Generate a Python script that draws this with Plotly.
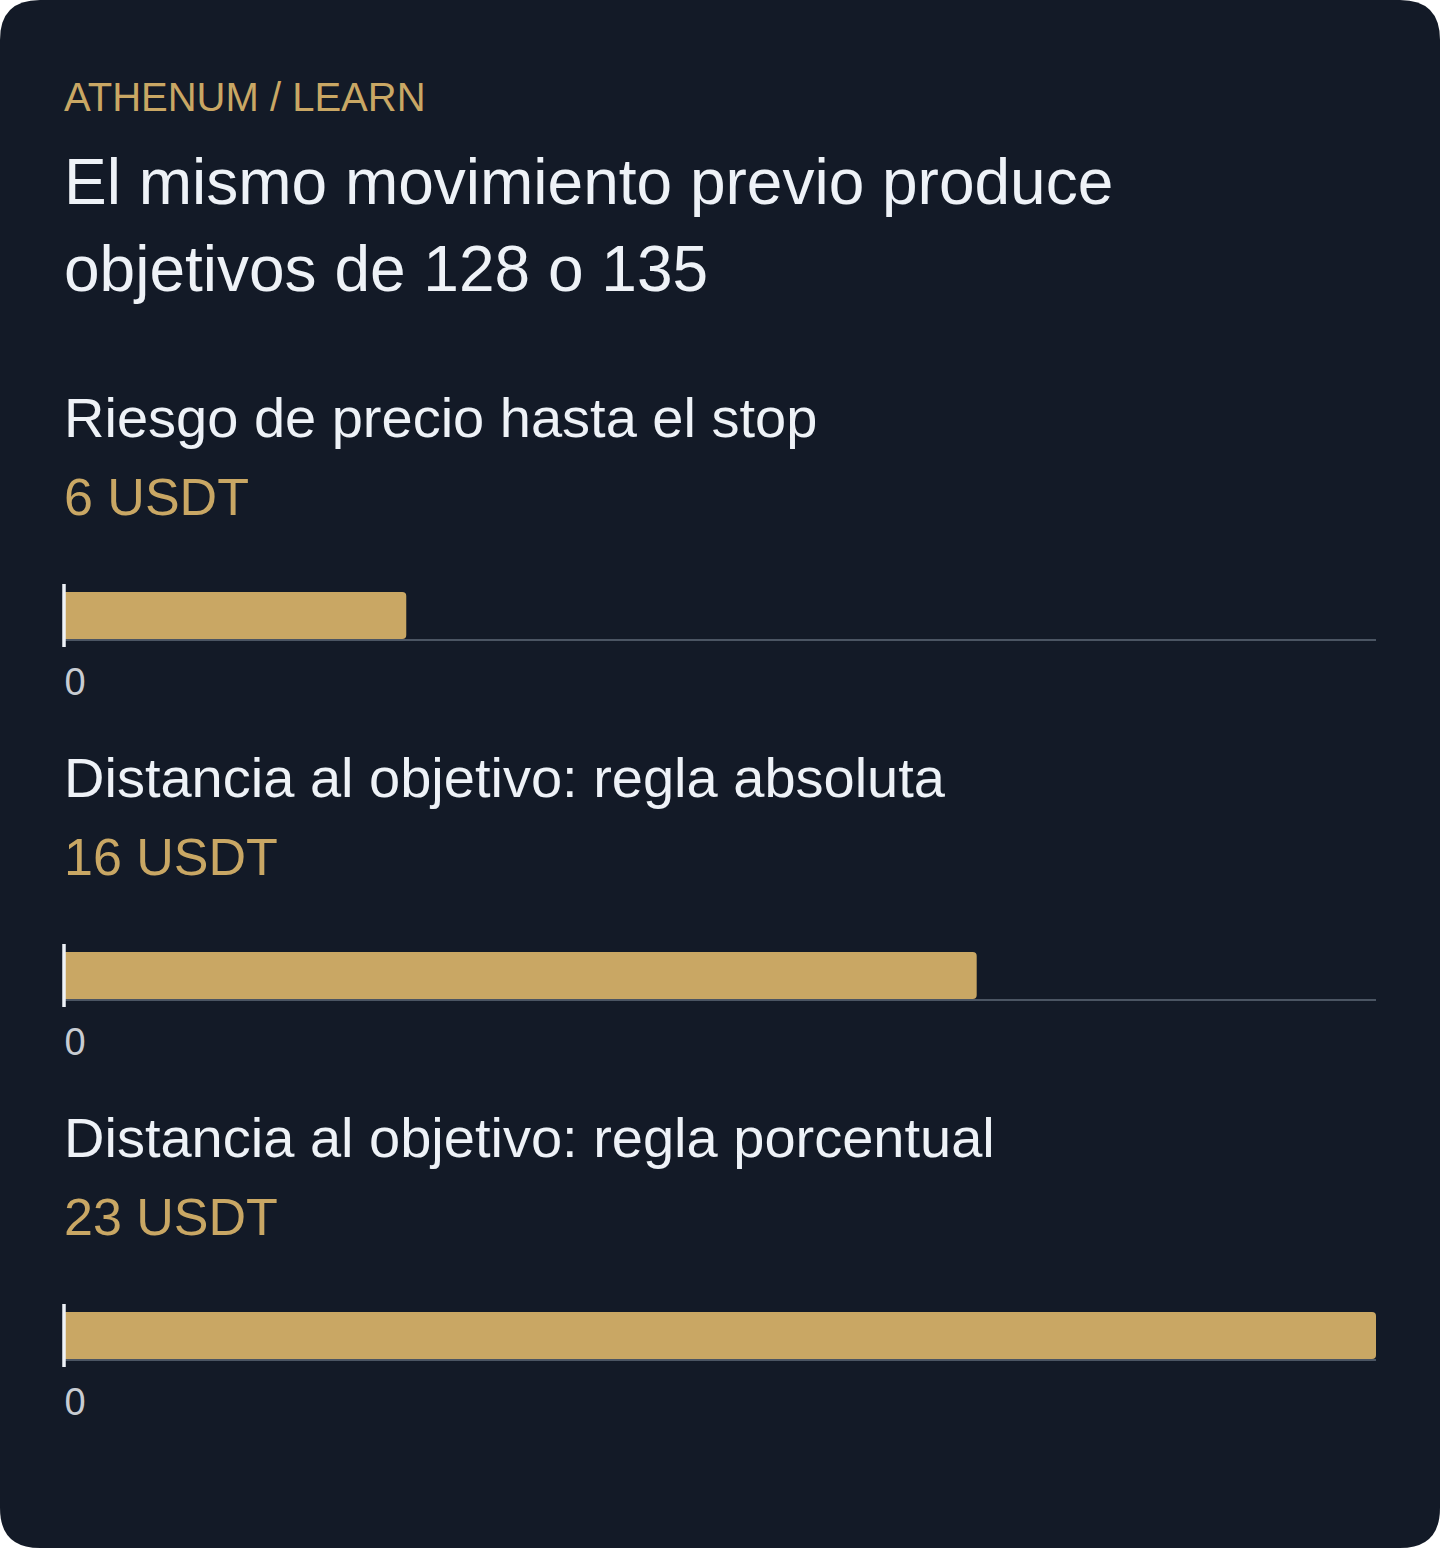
import plotly.graph_objects as go
from plotly.subplots import make_subplots

kicker = "ATHENUM / LEARN"
title_lines = ["El mismo movimiento previo produce", "objetivos de 128 o 135"]
labels = ["Riesgo de precio hasta el stop",
          "Distancia al objetivo: regla absoluta",
          "Distancia al objetivo: regla porcentual"]
values = [6, 16, 23]
value_text = ["6 USDT", "16 USDT", "23 USDT"]
tick_vals = [0]
tick_text = ["0"]

W, H = 1440, 1548
BG = "#131a27"
GOLD = "#c9a764"
WHITE = "#eef2f7"
FONT = "Liberation Sans, Arial, sans-serif"

def py(px):
    # pixel from top -> paper y
    return 1 - px / H

fig = make_subplots(rows=3, cols=1)

row_top = [584, 944, 1304]
row_h = 55
x_dom = [64 / W, 1376 / W]

for i, v in enumerate(values):
    r = i + 1
    fig.add_trace(go.Bar(x=[v], y=[0], orientation="h", marker_color=GOLD,
                         marker_line_width=0, width=0.8, showlegend=False,
                         hoverinfo="skip"), row=r, col=1)
    fig.update_xaxes(domain=x_dom, range=[0, max(values)], showgrid=False,
                     zeroline=False, showline=True, linecolor="#4b5563", linewidth=1.5,
                     tickvals=tick_vals, ticktext=tick_text, ticks="",
                     ticklabelshift=11, ticklabelstandoff=9,
                     tickfont=dict(size=38, color="#c8ccd2", family=FONT),
                     fixedrange=True, row=r, col=1)
    fig.update_yaxes(domain=[py(row_top[i] + row_h), py(row_top[i])],
                     range=[-0.4, 0.536], visible=False, fixedrange=True,
                     row=r, col=1)
    # white zero marker, a bit taller than the bar row
    fig.add_shape(type="line", xref="paper", yref="paper",
                  x0=64 / W, x1=64 / W, y0=py(row_top[i] + row_h + 8), y1=py(row_top[i]),
                  line=dict(color=WHITE, width=3.5), layer="above")

# card background with rounded corners
rx, ry = 40 / W, 40 / H
card = (f"M {rx},0 L {1-rx},0 Q 1,0 1,{ry} L 1,{1-ry} Q 1,1 {1-rx},1 "
        f"L {rx},1 Q 0,1 0,{1-ry} L 0,{ry} Q 0,0 {rx},0 Z")
fig.add_shape(type="path", xref="paper", yref="paper", path=card,
              fillcolor=BG, line_width=0, layer="below")

def text(t, y_px, size, color):
    fig.add_annotation(text=t, x=62 / W, y=py(y_px), xref="paper", yref="paper",
                       xanchor="left", yanchor="middle", showarrow=False,
                       font=dict(size=size, color=color, family=FONT))

text(kicker, 97, 40, GOLD)
text(title_lines[0], 182, 64, WHITE)
text(title_lines[1], 269, 64, WHITE)

title_y = [417, 777, 1137]
value_y = [497, 857, 1217]
for i in range(3):
    text(labels[i], title_y[i], 56, WHITE)
    text(value_text[i], value_y[i], 52, GOLD)

fig.update_layout(width=W, height=H, margin=dict(l=0, r=0, t=0, b=0),
                  paper_bgcolor="white", plot_bgcolor="rgba(0,0,0,0)",
                  barcornerradius=4, font=dict(family=FONT))

fig.write_html("out.html", config={"displayModeBar": False},
               post_script="document.body.style.margin='0';")
